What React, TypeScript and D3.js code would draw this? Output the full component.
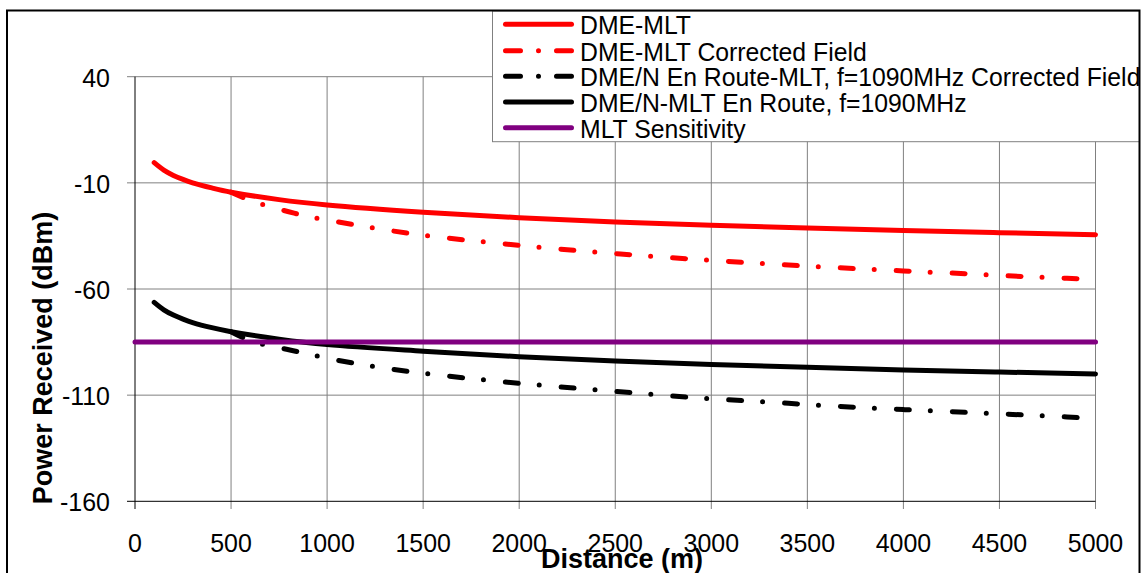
import React from "react";
import * as d3 from "d3";

const xTicks = [0, 500, 1000, 1500, 2000, 2500, 3000, 3500, 4000, 4500, 5000];
const yTicks = [40, -10, -60, -110, -160];

const solidDist = [100, 150, 200, 250, 300, 400, 500, 750, 1000, 1500, 2000, 2500, 3000, 3500, 4000, 4500, 5000];
const dmeMlt = [-0.5, -4.0, -6.5, -8.4, -10.0, -12.4, -14.4, -17.9, -20.4, -23.8, -26.4, -28.4, -30.0, -31.3, -32.5, -33.5, -34.4];
const dmeNMlt = [-66.3, -69.8, -72.3, -74.2, -75.8, -78.2, -80.1, -83.6, -86.2, -89.3, -91.9, -93.9, -95.6, -96.9, -98.1, -99.1, -100.0];

const corrDist = [500, 600, 700, 800, 900, 1000, 1250, 1500, 1750, 2000, 2250, 2500, 2750, 3000, 3250, 3500, 3750, 4000, 4250, 4500, 4750, 5000];
const dmeMltCorr = [-14.4, -18.3, -21.2, -23.6, -25.9, -27.5, -31.4, -34.6, -37.2, -39.4, -41.5, -43.3, -45.0, -46.5, -47.9, -49.2, -50.4, -51.5, -52.5, -53.6, -54.6, -55.5];
const dmeNMltCorr = [-80.1, -84.4, -86.8, -88.6, -90.6, -92.6, -96.6, -99.7, -102.2, -104.4, -106.4, -108.2, -110.1, -111.7, -113.0, -114.4, -115.7, -116.8, -117.8, -118.8, -119.8, -121.0];

const sensDist = [0, 5000];
const mltSensitivity = [-85, -85];

const legendLabels = [
  "DME-MLT",
  "DME-MLT Corrected Field",
  "DME/N En Route-MLT, f=1090MHz Corrected Field",
  "DME/N-MLT En Route, f=1090MHz",
  "MLT Sensitivity",
];

const FONT = "'Liberation Sans', Arial, sans-serif";

export default function App() {
  const x = d3.scaleLinear().domain([0, 5000]).range([135, 1095.5]);
  const y = d3.scaleLinear().domain([-160, 40]).range([501.3, 76.7]);
  const line = d3
    .line<[number, number]>()
    .x((d) => x(d[0]))
    .y((d) => y(d[1]))
    .curve(d3.curveCatmullRom.alpha(0.5));

  const zip = (a: number[], b: number[]) => a.map((v, i) => [v, b[i]] as [number, number]);
  const dash = "13 21 0 22";

  const series = [
    { data: zip(solidDist, dmeMlt), color: "#ff0000", dash: null },
    { data: zip(corrDist, dmeMltCorr), color: "#ff0000", dash },
    { data: zip(corrDist, dmeNMltCorr), color: "#000000", dash },
    { data: zip(solidDist, dmeNMlt), color: "#000000", dash: null },
    { data: zip(sensDist, mltSensitivity), color: "#800080", dash: null },
  ];

  const legendY = [24.3, 50.7, 76.3, 102, 127.7];

  return (
    <svg
      width={1146}
      height={573}
      style={{ position: "absolute", left: 0, top: 0, background: "#fff" }}
      fontFamily={FONT}
    >
      <rect x={0} y={0} width={1146} height={573} fill="#fff" />
      {/* grid */}
      {yTicks.slice(0, 4).map((t) => (
        <line key={"gy" + t} x1={127} x2={x(5000)} y1={y(t)} y2={y(t)} stroke="#808080" strokeWidth={1} />
      ))}
      {xTicks.slice(1).map((t) => (
        <line key={"gx" + t} x1={x(t)} x2={x(t)} y1={y(40)} y2={509} stroke="#808080" strokeWidth={1} />
      ))}
      {/* axes */}
      <line x1={x(0)} x2={x(0)} y1={y(40)} y2={509} stroke="#000" strokeWidth={1} />
      <line x1={127} x2={x(5000)} y1={y(-160)} y2={y(-160)} stroke="#000" strokeWidth={1} />

      {/* tick labels */}
      {yTicks.map((t) => (
        <g key={"ty" + t} transform={`translate(110,${y(t) + 9.8}) scale(0.96,1)`}>
          <text x={0} y={0} fontSize={26} textAnchor="end" fill="#000">
            {t}
          </text>
        </g>
      ))}
      {xTicks.map((t) => (
        <g key={"tx" + t} transform={`translate(${x(t)},551.7) scale(0.96,1)`}>
          <text x={0} y={0} fontSize={26} textAnchor="middle" fill="#000">
            {t}
          </text>
        </g>
      ))}

      {/* series */}
      {series.map((s, i) => (
        <path
          key={"s" + i}
          d={line(s.data) || ""}
          fill="none"
          stroke={s.color}
          strokeWidth={5}
          strokeLinecap="round"
          strokeLinejoin="round"
          strokeDasharray={s.dash || undefined}
        />
      ))}

      {/* axis titles */}
      <text
        transform="translate(51.5,358) rotate(-90)"
        fontSize={27}
        fontWeight="bold"
        textAnchor="middle"
        fill="#000"
      >
        Power Received (dBm)
      </text>
      <text x={622} y={568} fontSize={27} fontWeight="bold" textAnchor="middle" fill="#000">
        Distance (m)
      </text>

      {/* legend */}
      <rect x={492.5} y={11} width={647} height={130.7} fill="#fff" stroke="#808080" strokeWidth={1} />
      {legendLabels.map((lab, i) => (
        <g key={"lg" + i}>
          <line
            x1={505.5}
            x2={571.5}
            y1={legendY[i]}
            y2={legendY[i]}
            stroke={series[i].color}
            strokeWidth={5}
            strokeLinecap="round"
            strokeDasharray={series[i].dash ? "15 18 0 18 15" : undefined}
          />
          <g transform={`translate(580,${legendY[i] + 10}) scale(0.935,1)`}>
            <text x={0} y={0} fontSize={26.5} fill="#000">
              {lab}
            </text>
          </g>
        </g>
      ))}

      {/* outer chart border */}
      <rect x={7} y={10.5} width={1132.5} height={580} fill="none" stroke="#000" strokeWidth={2} />
    </svg>
  );
}
